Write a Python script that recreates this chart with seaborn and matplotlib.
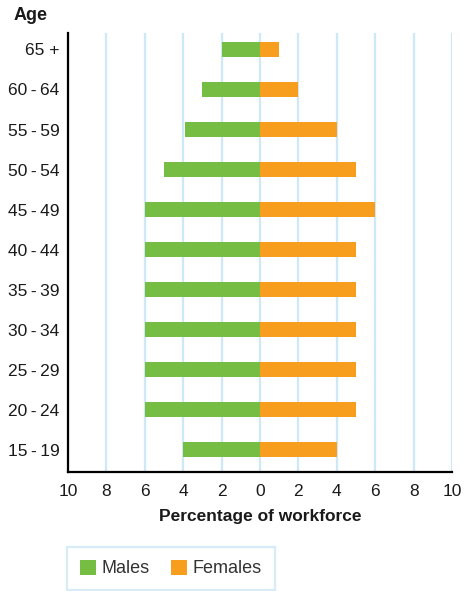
import matplotlib
matplotlib.use("Agg")
import matplotlib.pyplot as plt
from matplotlib.patches import Patch
from matplotlib.ticker import FuncFormatter, MultipleLocator
import seaborn as sns
import pandas as pd

ages = ["65 +", "60\u2009-\u200964", "55\u2009-\u200959", "50\u2009-\u200954", "45\u2009-\u200949",
        "40\u2009-\u200944", "35\u2009-\u200939", "30\u2009-\u200934", "25\u2009-\u200929",
        "20\u2009-\u200924", "15\u2009-\u200919"]
males = [2, 3, 3.9, 5, 6, 6, 6, 6, 6, 6, 4]
females = [1, 2, 4, 5, 6, 5, 5, 5, 5, 5, 4]
sexes = ["Males", "Females"]
colors = {"Males": "#76BE43", "Females": "#F89E1E"}

df = pd.DataFrame({
    "Age": ages + ages,
    "Sex": ["Males"] * len(ages) + ["Females"] * len(ages),
    "Value": [-m for m in males] + females,
})

sns.set_style("white")
plt.rcParams["font.family"] = ["Liberation Sans", "DejaVu Sans"]

fig = plt.figure(figsize=(4.71, 5.91), dpi=100)
ax = fig.add_axes([68 / 471, 1 - 472 / 591, (452 - 68) / 471, (472 - 33) / 591])

sns.barplot(data=df, y="Age", x="Value", hue="Sex", order=ages, hue_order=sexes,
            palette=colors, dodge=False, width=0.375, orient="h", legend=False,
            saturation=1, linewidth=0, edgecolor="none", ax=ax, zorder=3)

ax.set_xlim(-10, 10)
ax.set_ylim(10.55, -0.41)
ax.xaxis.set_major_locator(MultipleLocator(2))
ax.xaxis.set_major_formatter(FuncFormatter(lambda v, p: f"{abs(v):.0f}"))
ax.xaxis.grid(True, color="#cde8f7", lw=1.6, zorder=0)
ax.yaxis.grid(False)
ax.set_axisbelow(True)
for s in ["top", "right"]:
    ax.spines[s].set_visible(False)
for s in ["left", "bottom"]:
    ax.spines[s].set_color("black")
    ax.spines[s].set_linewidth(1.6)
    ax.spines[s].set_zorder(5)
ax.tick_params(axis="both", length=0, labelsize=12.5, colors="#1a1a1a")
ax.tick_params(axis="x", pad=9)
ax.tick_params(axis="y", pad=6)
ax.set_ylabel("")
ax.set_xlabel("Percentage of workforce", fontsize=12.5, fontweight="bold", labelpad=7, color="#1a1a1a")

fig.text(14 / 471, 1 - 15 / 591, "Age", fontsize=13, fontweight="bold", va="center", ha="left", color="#1a1a1a")

handles = [Patch(facecolor=colors[s], edgecolor="none", label=s) for s in sexes]
leg = fig.legend(handles=handles, loc="lower left", bbox_to_anchor=(67 / 471, 1 / 591), ncol=2,
                 frameon=True, fancybox=False, fontsize=13, handlelength=0.9, handleheight=0.9,
                 handletextpad=0.3, columnspacing=1.2, borderpad=0.7, borderaxespad=0)
leg.get_frame().set_edgecolor("#cde8f7")
leg.get_frame().set_linewidth(1.6)
for t in leg.get_texts():
    t.set_color("#333333")

fig.savefig("out.png", dpi=100)
